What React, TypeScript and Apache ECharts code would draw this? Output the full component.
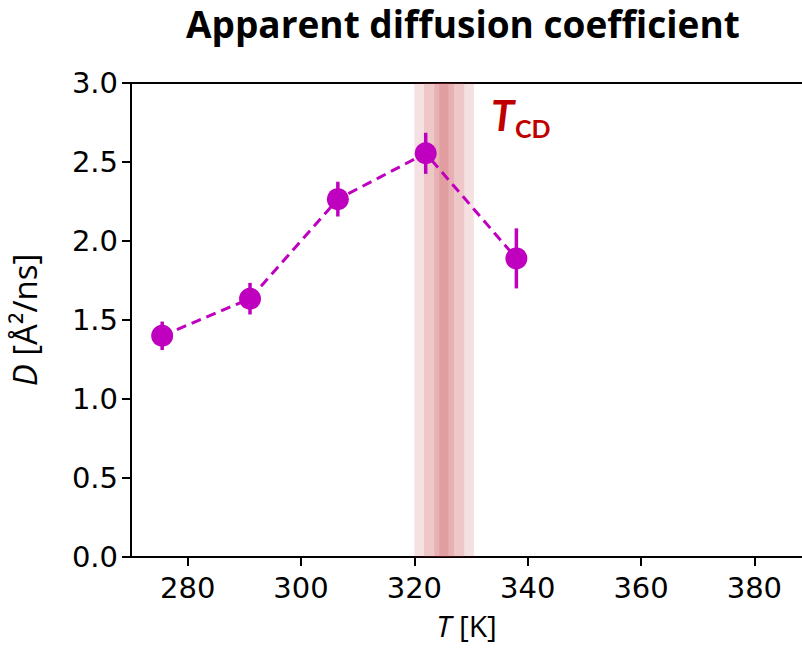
import React, { useEffect, useRef } from "react";
import * as echarts from "echarts";

const temperatures = [275.5, 291, 306.5, 322, 338];
const diffusion = [1.40, 1.635, 2.265, 2.555, 1.89];
const errors = [0.09, 0.10, 0.11, 0.13, 0.19];
const xTicks = [280, 300, 320, 340, 360, 380];
const bandLayers = [
  [320.0, 330.5],
  [321.7, 328.8],
  [323.5, 327.0],
  [324.4, 326.0],
];

const MAGENTA = "#bf00bf";

export default function App() {
  const ref = useRef<HTMLDivElement>(null);
  useEffect(() => {
    document.body.style.margin = "0";
    if (!ref.current) return;
    const chart = echarts.init(ref.current, null, { renderer: "svg" });
    const pts = temperatures.map((t, i) => [t, diffusion[i]]);
    const errData = temperatures.map((t, i) => [t, diffusion[i], errors[i]]);
    chart.setOption({
      animation: false,
      backgroundColor: "#fff",
      title: {
        text: "Apparent diffusion coefficient",
        left: 186,
        top: 3,
        padding: 0,
        textStyle: { fontFamily: "Open Sans", fontWeight: "bold", fontSize: 37, lineHeight: 40, color: "#000" },
      },
      grid: {
        left: 130,
        top: 83,
        right: 0,
        bottom: 93,
        show: false,
      },
      xAxis: [
        {
          type: "value",
          min: 270,
          max: 388.4,
          name: "{i|T} [K]",
          nameLocation: "middle",
          nameGap: 53,
          nameTextStyle: {
            fontFamily: "Open Sans",
            fontSize: 30,
            color: "#000",
            rich: { i: { fontFamily: "Open Sans", fontStyle: "italic", fontSize: 30, color: "#000" } },
          },
          splitLine: { show: false },
          axisLine: { show: true, lineStyle: { color: "#000", width: 2 } },
          axisTick: { show: true, length: 9, lineStyle: { color: "#000", width: 2 }, customValues: xTicks },
          axisLabel: {
            customValues: xTicks,
            fontFamily: "DejaVu Sans",
            fontSize: 29,
            color: "#000",
            margin: 16,
          },
        },
        {
          type: "value",
          position: "top",
          min: 270,
          max: 388.4,
          splitLine: { show: false },
          axisLine: { show: true, lineStyle: { color: "#000", width: 2 } },
          axisTick: { show: false },
          axisLabel: { show: false },
        },
      ],
      yAxis: {
        type: "value",
        min: 0,
        max: 3,
        interval: 0.5,
        name: "{i|D} [Å²/ns]",
        nameLocation: "middle",
        nameRotate: 90,
        nameGap: 90,
        nameTextStyle: {
          fontFamily: "Open Sans",
          fontSize: 33,
          color: "#000",
          rich: { i: { fontFamily: "Open Sans", fontStyle: "italic", fontSize: 33, color: "#000" } },
        },
        splitLine: { show: false },
        axisLine: { show: true, lineStyle: { color: "#000", width: 2 } },
        axisTick: { show: true, length: 9, lineStyle: { color: "#000", width: 2 } },
        axisLabel: {
          fontFamily: "DejaVu Sans",
          fontSize: 29,
          color: "#000",
          margin: 13,
          formatter: (v: number) => v.toFixed(1),
        },
      },
      graphic: [
        {
          type: "text",
          left: 491,
          top: 94,
          style: {
            text: "T",
            font: "italic bold 42px Lato",
            fill: "#c00000",
          },
          z: 100,
        },
        {
          type: "text",
          left: 515,
          top: 115,
          style: {
            text: "CD",
            font: "bold 25px Lato",
            fill: "#c00000",
          },
          z: 100,
        },
      ],
      series: [
        {
          type: "line",
          data: [],
          silent: true,
          z: 1,
          markArea: {
            silent: true,
            itemStyle: { color: "rgba(190,40,50,0.14)" },
            data: bandLayers.map((b) => [{ xAxis: b[0] }, { xAxis: b[1] }]),
          },
        },
        {
          type: "custom",
          z: 3,
          data: errData,
          renderItem: (params: any, api: any) => {
            const x = api.value(0);
            const y = api.value(1);
            const e = api.value(2);
            const p1 = api.coord([x, y - e]);
            const p2 = api.coord([x, y + e]);
            return {
              type: "line",
              shape: { x1: p1[0], y1: p1[1], x2: p2[0], y2: p2[1] },
              style: { stroke: MAGENTA, lineWidth: 3.5 },
            };
          },
        },
        {
          type: "line",
          z: 4,
          data: pts,
          symbol: "circle",
          symbolSize: 22,
          itemStyle: { color: MAGENTA },
          lineStyle: { color: MAGENTA, width: 3, type: [10, 6] },
        },
      ],
    });
    return () => chart.dispose();
  }, []);
  return <div ref={ref} style={{ width: 802, height: 650 }} />;
}
